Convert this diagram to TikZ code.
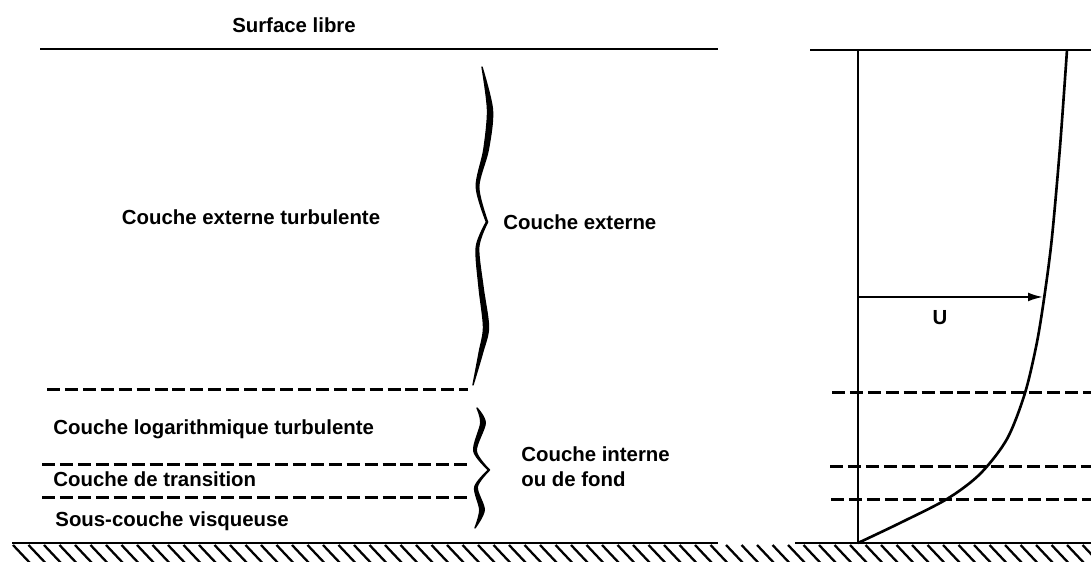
\documentclass[tikz,border=0pt]{standalone}
\usepackage{fontspec}
\setmainfont{Liberation Sans}
\usetikzlibrary{arrows.meta}
\begin{document}
\begin{tikzpicture}[line width=1.6pt,
    layer/.style={line width=1.7pt,dash pattern=on 7.4pt off 2.8pt},
    brace/.style={line width=0.8pt,line join=round},
    txt/.style={font=\fontsize{11.6}{14}\selectfont\bfseries,inner sep=0pt}]
  \useasboundingbox (0,0) rectangle (21.82,11.24);
  \draw[txt,align=left]
    (5.88,10.74) node (1){Surface libre}
    (5.02,6.9) node (2){Couche externe turbulente}
    (10.04,6.8) node[anchor=west] (3){Couche externe}
    (1.04,2.66) node[anchor=west] (4){Couche logarithmique turbulente}
    (1.04,1.66) node[anchor=west] (5){Couche de transition}
    (1.08,0.82) node[anchor=west] (6){Sous-couche visqueuse}
    (10.4,1.91) node[anchor=west] (7){Couche interne\\ou de fond}
    (18.8,4.88) node (8){U};
  \draw (0.8,10.26) -- (14.36,10.26);
  \draw (16.2,10.24) -- (21.82,10.24);
  \draw (0.24,0.38) -- (14.36,0.38);
  \draw (15.9,0.38) -- (21.82,0.38);
  \begin{scope}
    \clip (0,0) rectangle (21.82,0.36);
    \foreach \x in {0.26,0.57,...,21.9}
      \draw[line width=1.3pt] (\x,0.34) -- ++(0.34,-0.36);
  \end{scope}
  \draw[layer] (0.94,3.44) -- (9.36,3.44);
  \draw[layer] (0.84,1.94) -- (9.4,1.94);
  \draw[layer] (0.84,1.28) -- (9.44,1.28);
  \draw[layer] (16.64,3.38) -- (21.82,3.38);
  \draw[layer] (16.6,1.9) -- (21.82,1.9);
  \draw[layer] (16.62,1.24) -- (21.82,1.24);
  \filldraw[brace]
    plot[smooth] coordinates {(9.64,9.9) (9.85,9.04) (9.765,8.24) (9.575,7.5) (9.752,6.8)}
    -- plot[smooth] coordinates {(9.752,6.8) (9.575,6.3) (9.66,5.5) (9.77,4.7) (9.655,4.2) (9.46,3.54)}
    -- plot[smooth] coordinates {(9.46,3.54) (9.585,4.2) (9.67,4.7) (9.58,5.5) (9.525,6.3) (9.728,6.8)}
    -- plot[smooth] coordinates {(9.728,6.8) (9.525,7.5) (9.675,8.24) (9.75,9.04) (9.64,9.9)}
    -- cycle;
  \filldraw[brace]
    plot[smooth] coordinates {(9.54,3.08) (9.705,2.78) (9.525,2.22) (9.79,1.84)}
    -- plot[smooth] coordinates {(9.79,1.84) (9.545,1.5) (9.685,1.04) (9.5,0.68)}
    -- plot[smooth] coordinates {(9.5,0.68) (9.595,1.04) (9.495,1.5) (9.77,1.84)}
    -- plot[smooth] coordinates {(9.77,1.84) (9.475,2.22) (9.615,2.78) (9.54,3.08)}
    -- cycle;
  \draw[line width=1.5pt] (17.16,0.38) -- (17.16,10.24);
  \draw[line width=1.5pt] plot[smooth] coordinates {(17.16,0.38) (18.0,0.78) (18.94,1.26) (19.6,1.76) (20.14,2.46) (20.5,3.38) (20.74,4.4) (20.9,5.4) (21.04,6.5) (21.2,8.3) (21.34,10.24)};
  \coordinate (a) at (17.16,5.3);
  \coordinate (b) at (20.86,5.3);
  \begin{scope}[-{Latex[length=8.5pt,width=5pt]}]
    \draw[line width=1.1pt] (a) to (b);
  \end{scope}
\end{tikzpicture}
\end{document}
